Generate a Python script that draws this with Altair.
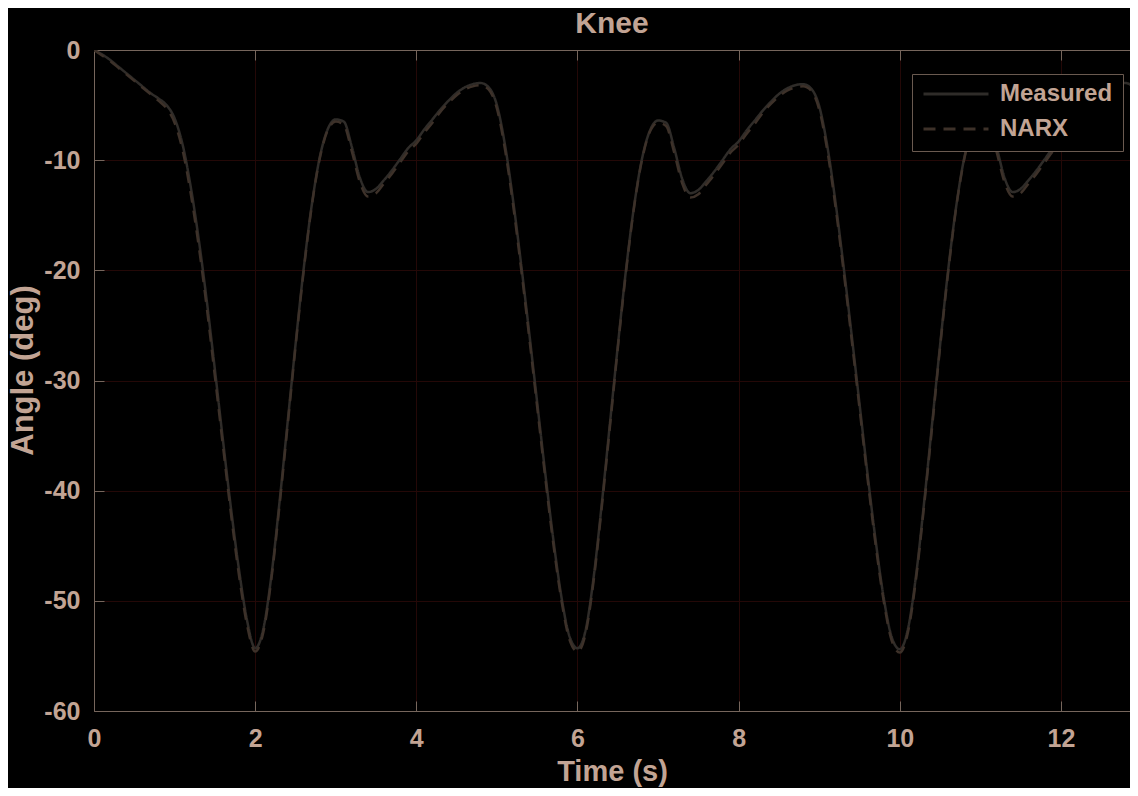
import altair as alt
import pandas as pd

SERIES = ["Measured", "NARX"]
SERIES_COLORS = ["#2f2c29", "#3d3129"]
SERIES_DASH = [[1, 0], [12, 8]]
X_TICKS = [0, 2, 4, 6, 8, 10, 12]
Y_TICKS = [-60, -50, -40, -30, -20, -10, 0]

# sample times 0.0 .. 13.0 s, step 0.1 s
TIME = [round(i * 0.1, 1) for i in range(131)]

MEASURED = [
    0.0, -0.4, -0.9, -1.5, -2.1, -2.7, -3.3, -3.9, -4.4, -5.0,
    -6.2, -8.6, -12.4, -17.2, -22.8, -29.0, -35.4, -41.6, -47.2, -51.8,
    -54.3,
    -52.6, -47.8, -41.2, -34.0, -26.8, -20.0, -14.2, -9.8, -7.2, -6.3,
    -6.5, -8.8, -11.6, -12.9, -12.6, -11.8, -10.9, -9.9, -8.9, -8.2,
    -7.2, -6.3, -5.4, -4.6, -3.9, -3.4, -3.1, -3.0, -3.4, -5.0,
    -8.6, -13.6, -19.4, -25.6, -32.0, -38.4, -44.4, -49.6, -53.2, -54.3,
    -52.7, -47.9, -41.3, -34.1, -26.9, -20.1, -14.3, -9.9, -7.3, -6.4,
    -6.6, -8.9, -11.7, -13.0, -12.7, -11.9, -11.0, -10.0, -9.0, -8.3,
    -7.3, -6.4, -5.5, -4.7, -4.0, -3.5, -3.2, -3.1, -3.5, -5.1,
    -8.7, -13.7, -19.5, -25.7, -32.1, -38.5, -44.5, -49.7, -53.3, -54.4,
    -52.6, -47.8, -41.2, -34.0, -26.8, -20.0, -14.2, -9.8, -7.2, -6.3,
    -6.5, -8.8, -11.6, -12.9, -12.6, -11.8, -10.9, -9.9, -8.9, -8.2,
    -7.2, -6.3, -5.4, -4.6, -3.9, -3.4, -3.1, -3.0, -3.4, -5.0,
]

NARX = [
    0.0, -0.5, -1.0, -1.6, -2.2, -2.8, -3.4, -4.0, -4.6, -5.3,
    -6.6, -9.1, -13.0, -17.8, -23.4, -29.6, -35.9, -42.1, -47.7, -52.2,
    -54.6,
    -52.9, -48.1, -41.5, -34.3, -27.0, -20.2, -14.3, -9.9, -7.3, -6.5,
    -6.8, -9.2, -12.0, -13.3, -13.0, -12.1, -11.2, -10.2, -9.2, -8.5,
    -7.5, -6.6, -5.6, -4.8, -4.1, -3.6, -3.3, -3.2, -3.6, -5.3,
    -9.0, -14.0, -19.8, -26.0, -32.4, -38.8, -44.8, -49.9, -53.5, -54.6,
    -53.0, -48.2, -41.6, -34.4, -27.1, -20.3, -14.4, -10.0, -7.4, -6.6,
    -6.9, -9.3, -12.1, -13.4, -13.1, -12.2, -11.3, -10.3, -9.3, -8.6,
    -7.6, -6.7, -5.7, -4.9, -4.2, -3.7, -3.4, -3.3, -3.7, -5.4,
    -9.1, -14.1, -19.9, -26.1, -32.5, -38.9, -44.9, -50.0, -53.6, -54.7,
    -52.9, -48.1, -41.5, -34.3, -27.0, -20.2, -14.3, -9.9, -7.3, -6.5,
    -6.8, -9.2, -12.0, -13.3, -13.0, -12.1, -11.2, -10.2, -9.2, -8.5,
    -7.5, -6.6, -5.6, -4.8, -4.1, -3.6, -3.3, -3.2, -3.6, -5.3,
]

FONT = "Liberation Sans"
TEXT = "#c2a494"
AXIS = "#76665c"
GRID = "#240807"
PLOT_W = 1036
PLOT_H = 661

rows = []
for t, m, n in zip(TIME, MEASURED, NARX):
    rows.append({"t": t, "series": SERIES[0], "angle": m})
    rows.append({"t": t, "series": SERIES[1], "angle": n})
df = pd.DataFrame(rows)

x_scale = alt.Scale(domain=[0, 12.857], nice=False, zero=False)
y_scale = alt.Scale(domain=[-60, 0], nice=False, zero=False)

legend = alt.Legend(
    orient="none", legendX=818, legendY=24,
    symbolType="stroke", symbolSize=4225, symbolStrokeWidth=3,
    clipHeight=20, rowPadding=11, padding=10, labelOffset=10,
    labelFontSize=24, labelFont=FONT, labelFontWeight="bold", labelColor=TEXT,
    strokeColor="#6a5a50", fillColor="#000000", labelLimit=400,
)

plain_label = "'' + datum.value"

lines = alt.Chart(df).mark_line(strokeWidth=2.5, clip=True, interpolate="monotone").encode(
    x=alt.X("t:Q", scale=x_scale, axis=alt.Axis(
        orient="bottom", values=X_TICKS, title="Time (s)", grid=True,
        ticks=False, tickSize=0, labelPadding=15, titlePadding=6,
        labelFlush=False, labelExpr=plain_label, titleFontSize=29)),
    y=alt.Y("angle:Q", scale=y_scale, axis=alt.Axis(
        orient="left", values=Y_TICKS, title="Angle (deg)", grid=True,
        ticks=False, tickSize=0, labelPadding=14, titlePadding=4,
        labelFlush=False, labelExpr=plain_label, titleFontSize=31, titleY=320)),
    color=alt.Color("series:N", title=None,
                    scale=alt.Scale(domain=SERIES, range=SERIES_COLORS), legend=legend),
    strokeDash=alt.StrokeDash("series:N", title=None,
                              scale=alt.Scale(domain=SERIES, range=SERIES_DASH), legend=legend),
)

ghost = alt.Chart(df).mark_line(opacity=0)

ticks_a = ghost.encode(
    x=alt.X("t:Q", scale=x_scale, axis=alt.Axis(
        orient="top", offset=-PLOT_H, values=X_TICKS, labels=False, title="",
        domain=False, grid=False, ticks=True, tickSize=10)),
    y=alt.Y("angle:Q", scale=y_scale, axis=alt.Axis(
        orient="right", offset=-PLOT_W, values=Y_TICKS, labels=False, title="",
        domain=False, grid=False, ticks=True, tickSize=10)),
)

ticks_b = ghost.encode(
    x=alt.X("t:Q", scale=x_scale, axis=alt.Axis(
        orient="bottom", offset=-PLOT_H, values=X_TICKS, labels=False, title="",
        domain=True, grid=False, ticks=True, tickSize=10)),
    y=alt.Y("angle:Q", scale=y_scale, axis=None),
)

chart = alt.layer(ticks_a, ticks_b, lines).resolve_axis(
    x="independent", y="independent"
).properties(
    width=PLOT_W, height=PLOT_H,
    autosize=alt.AutoSizeParams(type="none"),
    padding={"left": 86, "top": 42, "right": 0, "bottom": 77},
    background="#000000",
    title=alt.TitleParams("Knee", fontSize=30, font=FONT, fontWeight="bold",
                          color=TEXT, anchor="middle", frame="group", offset=-1),
).configure_view(stroke="transparent").configure_axis(
    labelFont=FONT, labelFontWeight="bold", labelColor=TEXT, labelFontSize=25,
    titleFont=FONT, titleFontWeight="bold", titleColor=TEXT, titleFontSize=28,
    domainColor=AXIS, tickColor=AXIS, gridColor=GRID, gridWidth=1,
)

chart.save("out.html", embed_options={"renderer": "svg", "actions": False})
